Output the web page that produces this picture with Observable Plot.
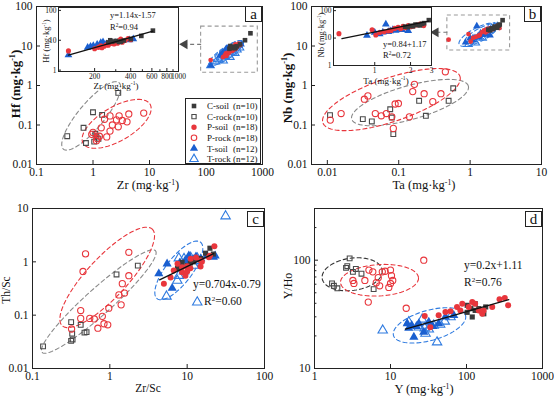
<!DOCTYPE html>
<html><head><meta charset="utf-8">
<script src="https://cdn.jsdelivr.net/npm/d3@7"></script>
<script src="https://cdn.jsdelivr.net/npm/@observablehq/plot@0.6"></script>
<style>
body{margin:0;background:#fff;}
#root{position:relative;width:554px;height:396px;overflow:hidden;background:#fff;font-family:'Liberation Serif','Times New Roman',serif;color:#111;}
.t{position:absolute;white-space:nowrap;line-height:1;}
.sup{font-size:.62em;vertical-align:.55em;}
.lab{position:absolute;border:1px solid #222;background:#fff;font-size:15px;line-height:14px;text-align:center;box-sizing:border-box;}
</style></head><body><div id="root"></div>
<script>
// ---------- data ----------
// Panel a: Zr vs Hf (mg/kg)
const aCrock = [[2.8,0.65],[1.0,0.21],[1.45,0.18],[0.68,0.085],[0.35,0.052],[0.75,0.035],[1.15,0.052],[1.25,0.045],[1.05,0.038],[1.1,0.06]];
const aProck = [[7.9,0.2],[4.3,0.19],[2.9,0.17],[2.0,0.17],[1.6,0.14],[2.6,0.135],[3.3,0.13],[4.0,0.12],[1.4,0.085],[2.8,0.09],[2.0,0.07],[0.95,0.058],[1.75,0.05],[1.0,0.065],[1.2,0.045],[1.3,0.052],[1.15,0.04],[2.2,0.1]];
const aCsoil = [[612,21],[490,14],[270,10],[300,9.5],[330,9],[260,8.5],[350,9.8],[280,9],[400,11],[320,8.8]];
const aPsoil = [[121,4.4],[200,5.2],[215,5.8],[225,6.5],[240,6.3],[250,7],[270,7.8],[290,7.5],[300,8.5],[310,8],[320,9.8],[330,11],[340,8.6],[360,10],[380,11.5],[400,10.5],[260,6.8],[230,5.6]];
const aTsoil = [[121,3.2],[175,5.7],[185,6.2],[195,6.6],[210,7.2],[225,8.3],[235,8.8],[250,7.5],[280,8],[300,8.3],[420,11],[390,10.2]];
const aTrock = [[120,3.2],[150,4.0],[170,4.5],[190,5.0],[205,4.2],[220,5.5],[250,6.0],[270,5.2],[300,7.0],[330,6.5],[360,8.0],[400,9.0]];
// Panel b: Ta vs Nb
const bCrock = [[0.0109,0.178],[0.0314,0.141],[0.042,0.123],[0.076,0.25],[0.080,0.155],[0.084,0.059],[0.193,0.41],[0.24,0.171],[0.50,0.41],[0.58,0.85]];
const bProck = [[0.011,0.133],[0.0156,0.195],[0.033,0.45],[0.037,0.545],[0.047,0.195],[0.057,0.171],[0.067,0.195],[0.080,0.161],[0.084,0.082],[0.089,0.34],[0.099,0.35],[0.141,0.161],[0.157,0.70],[0.166,1.07],[0.227,0.62],[0.30,0.39],[0.39,0.62],[0.45,2.22]];
const bCsoil = [[2.85,45],[2.5,33],[2.3,30],[2.0,28],[1.8,26],[2.2,31],[2.6,35],[1.9,25],[2.4,29],[2.1,27]];
const bPsoil = [[0.5,14.5],[0.95,20],[1.02,13],[1.1,16],[1.3,18],[1.37,19],[1.47,22.5],[1.57,24.7],[1.65,22],[1.73,27],[1.8,24],[1.91,28.5],[2.0,26],[2.1,27],[2.25,30],[2.4,32.5],[2.58,28.5],[1.2,17]];
const bTsoil = [[0.86,12.3],[1.0,16],[1.1,14],[1.17,16.3],[1.24,32],[1.3,17],[1.42,20.3],[1.5,19],[1.6,21],[1.7,20],[1.91,18.5],[1.35,18]];
const bTrock = [[0.95,11],[1.0,13],[1.1,15],[1.2,12],[1.3,17],[1.4,20],[1.5,16],[1.6,22],[1.8,25],[2.0,28],[2.2,30],[2.4,31]];
// Panel c: Zr/Sc vs Th/Sc
const cCrock = [[0.137,0.026],[0.316,0.074],[0.326,0.045],[0.316,0.033],[0.42,0.066],[0.47,0.047],[1.22,0.58],[2.3,0.85],[0.33,0.035],[0.5,0.048]];
const cProck = [[0.485,1.41],[0.45,0.66],[1.76,1.51],[1.76,0.55],[1.45,0.39],[1.55,0.26],[1.31,0.24],[1.40,0.156],[0.97,0.135],[0.42,0.122],[0.42,0.087],[0.55,0.087],[0.63,0.085],[0.80,0.095],[0.84,0.069],[0.94,0.066],[0.70,0.057],[0.32,0.055]];
const cCsoil = [[7.5,0.75],[8.6,0.98],[10,0.85],[11,0.95],[12,1.0],[13.5,1.14],[15,1.15],[17.3,1.45],[19.7,1.8],[21.8,1.4]];
const cPsoil = [[5.0,0.39],[6.1,0.51],[8.6,0.64],[9.5,0.55],[10,0.83],[7.5,0.92],[14.9,1.06],[15.5,1.0],[19.1,1.22],[22.5,1.95],[11.1,1.14],[8.6,0.79],[14.9,0.82],[19.7,1.3],[11,0.76],[10,0.66],[6.7,0.69],[13,1.2]];
const cTsoil = [[4.3,0.6],[5.5,0.92],[6.4,0.32],[8,0.95],[9.4,1.05],[10.5,1.3],[12,1.1],[13,1.25],[15,1.15],[18,1.3],[21.8,1.22],[23,1.3]];
const cTrock = [[31.4,7.2],[5.4,0.225],[7.45,0.445],[7.8,0.55],[7.8,1.17],[9.1,1.14],[9.1,0.67],[12.2,0.85],[13.5,1.17],[11.1,1.2],[13,1.05],[13.5,0.175]];
// Panel d: Y vs Y/Ho
const dCrock = [[2.9,104],[2.6,85],[2.7,88],[3.5,83],[4.15,75],[1.7,61],[2.0,55],[6.0,54],[1.8,58],[3.2,78]];
const dProck = [[5.2,81],[5.85,78],[3.2,65],[3.3,61],[4.6,65],[6.5,62],[6.9,69],[7.8,78],[10,81],[10.3,72],[10.7,65],[9.5,56],[10,61],[5.1,41],[27.4,100],[16.1,36],[8.5,79],[7.2,58]];
const dCsoil = [[102,38.3],[130,39.7],[119,29.9],[161,33.7],[169,32],[145,35.7],[114,35.7],[179,37],[130,34.4],[102,33]];
const dPsoil = [[28.2,30.5],[43,31],[61.6,33.7],[75,37],[88,39.7],[107,37],[119,41],[145,34.4],[161,32],[218,37],[272,43.5],[319,44.7],[353,38.3],[83,34.4],[52.8,33.3],[33.4,24],[130,39.7],[168,34.4]];
const dTsoil = [[16.6,26],[17.4,23.6],[20.3,19.5],[23.6,26],[27.4,21.7],[31.9,26.8],[36,24.5],[43,26],[52.8,30],[68,31],[22,24.5],[19,25]];
const dTrock = [[7.9,22.5],[17.4,26.8],[23.6,24],[28.2,23.6],[31.9,23],[37.1,25],[51.8,27.2],[61.6,29.9],[28.9,21],[26.1,28.4],[41,17.5],[45,25.5]];

// regression fits: [slope, intercept (log10), xmin, xmax]
const fitA = [1.14, -1.87, 121, 612];
const fitB = [0.88, 1.22, 0.53, 2.85];
const fitC = [0.704, -0.79, 4.4, 22];
const fitD = [0.2, 1.125, 15.7, 360];

// group ellipses: [centre x, centre y, major dlogx, major dlogy, minor dlogx, minor dlogy]
const ellA_C = [0.93, 0.17, 0.5, 0.83, 0.15, -0.25];
const ellA_P = [2.62, 0.107, 0.59, 0.5, 0.16, -0.365];
const ellA_T1 = [228, 6.6, 0.3, 0.29, 0.06, -0.12];
const ellA_T2 = [245, 7.4, 0.25, 0.25, 0.05, -0.1];
const ellB_P = [0.079, 0.44, 0.96, 0.59, 0.10, -0.52];
const ellB_C = [0.144, 0.37, 0.817, 0.42, 0.066, -0.41];
const ellB_T1 = [1.31, 19.4, 0.27, 0.25, 0.045, -0.16];
const ellB_T2 = [1.45, 21, 0.23, 0.22, 0.04, -0.12];
const ellC_P = [0.925, 0.51, 0.582, 0.906, 0.19, -0.257];
const ellC_C = [0.72, 0.18, 0.733, 0.953, 0.112, -0.182];
const ellC_T = [7.8, 0.69, 0.28, 0.53, 0.134, -0.148];
const ellD_C = [3.13, 74.1, 0.395, 0.037, 0.026, -0.148];
const ellD_P = [7.17, 65.3, 0.513, 0.0185, 0.0, -0.145];
const ellD_T = [32.6, 25, 0.474, 0.093, 0.053, -0.134];

// zoom boxes [x1, x2, y1, y2] and arrows [y, xTail, xHead]
const boxA = [82, 826, 2.1, 31];
const arrowA = [11, 82, 42];
const boxB = [0.48, 3.63, 7.7, 59];
const arrowB = [22.2, 0.48, 0.33];

// tick values
const xTicksA = [0.1, 1, 10, 100, 1000];
const yTicksAB = [0.01, 0.1, 1, 10, 100];
const xTicksB = [0.01, 0.1, 1, 10];
const xTicksC = [0.1, 1, 10, 100];
const yTicksC = [0.01, 0.1, 1, 10];
const xTicksD = [1, 10, 100, 1000];
const yTicksD = [10, 100];
const yMinorD = [20, 30, 40, 50, 60, 70, 80, 90, 200];
const xTicksIA = [200, 400, 600, 800, 1000];
const xMinorIA = [300, 500, 700, 900];
const yTicksI = [1, 10, 100];
const xTicksIB = [1, 2, 3];

const legendNames = ["C-soil", "C-rock", "P-soil", "P-rock", "T-soil", "T-rock"];
const legendN = [10, 10, 18, 18, 12, 12];

// ---------- drawing ----------
const root = document.getElementById("root");
const FONT = "'Liberation Serif','Times New Roman',serif";
const RED = "#e8363c", BLUE = "#1a5fd0", BLUE2 = "#2f7be0", DARK = "#3a3a3a", GREY = "#4a4a4a";
const ST = {
  Cs: {symbol: "square", fill: DARK, r: 2.9},
  Cr: {symbol: "square", stroke: GREY, r: 2.7},
  Ps: {symbol: "circle", fill: RED, r: 3.0},
  Pr: {symbol: "circle", stroke: RED, r: 3.1},
  Ts: {symbol: "triangle", fill: BLUE, r: 3.4},
  Tr: {symbol: "triangle", stroke: BLUE2, r: 3.5}
};
function dots(data, s, k = 1) {
  return Plot.dot(data, {x: d => d[0], y: d => d[1], symbol: s.symbol, fill: s.fill || "none", stroke: s.stroke || "none", r: s.r * k, strokeWidth: 1.1});
}
function ellPts(e, n = 96) {
  const cx = Math.log10(e[0]), cy = Math.log10(e[1]);
  return d3.range(n + 1).map(i => { const t = 2 * Math.PI * i / n;
    return [10 ** (cx + e[2] * Math.cos(t) + e[4] * Math.sin(t)), 10 ** (cy + e[3] * Math.cos(t) + e[5] * Math.sin(t))]; });
}
function ellMark(e, stroke) {
  return Plot.line(ellPts(e), {x: d => d[0], y: d => d[1], stroke, strokeWidth: 1.1, strokeDasharray: "4,3"});
}
function fitLine(f) {
  const pts = [f[2], f[3]].map(x => [x, 10 ** (f[0] * Math.log10(x) + f[1])]);
  return Plot.line(pts, {x: d => d[0], y: d => d[1], stroke: "#111", strokeWidth: 1.3});
}
function boxMarks(b, a) {
  return [
    Plot.rect([b], {x1: d => d[0], x2: d => d[1], y1: d => d[2], y2: d => d[3], fill: "none", stroke: "#9a9a9a", strokeWidth: 1.1, strokeDasharray: "4,3"}),
    Plot.link([a], {x1: d => d[1], x2: d => d[2], y1: d => d[0], y2: d => d[0], stroke: "#777", strokeWidth: 1.1, strokeDasharray: "4,3"}),
    Plot.dot([a], {x: d => d[2], y: d => d[0], symbol: "triangle", rotate: -90, r: 3.6, fill: "#444", stroke: "none"})
  ];
}
function panel(o) {
  const fw = o.w - o.ml - o.mr, fh = o.h - o.mt - o.mb;
  const tl = o.tl || 4;
  const marks = [];
  if (o.bg) marks.push(Plot.frame({fill: "white", stroke: "none"}));
  marks.push(...o.marks);
  marks.push(Plot.tickX(o.xt, {x: d => d, insetTop: fh - tl, stroke: "#222"}));
  marks.push(Plot.tickY(o.yt, {y: d => d, insetRight: fw - tl, stroke: "#222"}));
  if (o.xm) marks.push(Plot.tickX(o.xm, {x: d => d, insetTop: fh - tl * 0.6, stroke: "#222"}));
  if (o.ym) marks.push(Plot.tickY(o.ym, {y: d => d, insetRight: fw - tl * 0.6, stroke: "#222"}));
  marks.push(Plot.frame({stroke: "#222", strokeWidth: 1}));
  const svg = Plot.plot({
    width: o.w, height: o.h, marginLeft: o.ml, marginRight: o.mr, marginTop: o.mt, marginBottom: o.mb,
    x: {type: "log", domain: o.xd, ticks: o.xt, tickFormat: d => String(d), tickSize: 0, tickPadding: o.tpx || 3, label: null},
    y: {type: "log", domain: o.yd, ticks: o.yt, tickFormat: d => String(d), tickSize: 0, tickPadding: o.tpy || 4, label: null},
    style: {fontFamily: FONT, fontSize: o.fs + "px", color: "#111", background: "transparent", overflow: "visible"},
    marks
  });
  svg.style.position = "absolute";
  svg.style.left = o.left + "px";
  svg.style.top = o.top + "px";
  root.appendChild(svg);
}
function txt(html, x, y, opt = {}) {
  const d = document.createElement("div");
  d.className = "t";
  d.innerHTML = html;
  d.style.left = x + "px"; d.style.top = y + "px";
  d.style.fontSize = (opt.size || 12) + "px";
  d.style.fontWeight = opt.weight || "normal";
  const tx = opt.anchor === "middle" ? "-50%" : opt.anchor === "end" ? "-100%" : "0";
  d.style.transform = `translate(${tx},-50%)` + (opt.rotate ? ` rotate(${opt.rotate}deg)` : "");
  root.appendChild(d);
}
function letter(ch, x, y) {
  const d = document.createElement("div");
  d.className = "lab"; d.textContent = ch;
  d.style.left = x + "px"; d.style.top = y + "px"; d.style.width = "17px"; d.style.height = "16px";
  root.appendChild(d);
}
const unit = 'mg·kg<span class="sup">-1</span>';

// Panel a
panel({left: 0, top: 0, w: 275, h: 196, ml: 36, mr: 13, mt: 6, mb: 32, fs: 11.5,
  xd: [0.1, 1000], yd: [0.01, 100], xt: xTicksA, yt: yTicksAB,
  marks: [ellMark(ellA_C, "#8a8a8a"), ellMark(ellA_P, RED), ellMark(ellA_T1, BLUE2), ellMark(ellA_T2, BLUE2),
    dots(aCrock, ST.Cr), dots(aProck, ST.Pr), ...boxMarks(boxA, arrowA),
    dots(aTrock, ST.Tr, 0.8), dots(aTsoil, ST.Ts, 0.8), dots(aPsoil, ST.Ps, 0.8), dots(aCsoil, ST.Cs, 0.9)]});
// Panel b
panel({left: 275, top: 0, w: 279, h: 196, ml: 36, mr: 13, mt: 6, mb: 32, fs: 11.5,
  xd: [0.006, 10], yd: [0.01, 100], xt: xTicksB, yt: yTicksAB,
  marks: [ellMark(ellB_C, "#8a8a8a"), ellMark(ellB_P, RED), ellMark(ellB_T1, BLUE2), ellMark(ellB_T2, BLUE2),
    dots(bCrock, ST.Cr), dots(bProck, ST.Pr), ...boxMarks(boxB, arrowB),
    dots(bTrock, ST.Tr, 0.8), dots(bTsoil, ST.Ts, 0.8), dots(bPsoil, ST.Ps, 0.8), dots(bCsoil, ST.Cs, 0.9)]});
// Panel c
panel({left: 0, top: 200, w: 275, h: 196, ml: 32, mr: 11, mt: 8, mb: 28, fs: 11.5,
  xd: [0.1, 100], yd: [0.01, 10], xt: xTicksC, yt: yTicksC,
  marks: [ellMark(ellC_C, "#8a8a8a"), ellMark(ellC_P, RED), ellMark(ellC_T, BLUE2),
    dots(cCrock, ST.Cr), dots(cProck, ST.Pr), dots(cTrock, ST.Tr), dots(cTsoil, ST.Ts), dots(cCsoil, ST.Cs), dots(cPsoil, ST.Ps), fitLine(fitC)]});
// Panel d
panel({left: 275, top: 200, w: 279, h: 196, ml: 39, mr: 12, mt: 8, mb: 28, fs: 11.5,
  xd: [1, 1000], yd: [10, 300], xt: xTicksD, yt: yTicksD, ym: yMinorD,
  marks: [ellMark(ellD_C, "#333"), ellMark(ellD_P, RED), ellMark(ellD_T, BLUE2),
    dots(dCrock, ST.Cr), dots(dProck, ST.Pr), dots(dTrock, ST.Tr), dots(dTsoil, ST.Ts), dots(dCsoil, ST.Cs), dots(dPsoil, ST.Ps), fitLine(fitD)]});
// Inset a
panel({left: 30, top: 0, w: 160, h: 95, ml: 28, mr: 12, mt: 7, mb: 24, fs: 7.5, bg: true, tl: 3, tpx: 2, tpy: 2,
  xd: [100, 1000], yd: [0.9, 125], xt: xTicksIA, yt: yTicksI, xm: xMinorIA,
  marks: [dots(aTsoil, ST.Ts, 0.85), dots(aPsoil, ST.Ps, 0.85), dots(aCsoil, ST.Cs, 0.9), fitLine(fitA)]});
// Inset b
panel({left: 300, top: 0, w: 145, h: 92, ml: 33, mr: 14, mt: 7, mb: 27, fs: 7.5, bg: true, tl: 3, tpx: 2, tpy: 2,
  xd: [0.45, 3], yd: [1, 130], xt: xTicksIB, yt: yTicksI,
  marks: [dots(bTsoil, ST.Ts, 0.85), dots(bPsoil, ST.Ps, 0.85), dots(bCsoil, ST.Cs, 0.9), fitLine(fitB)]});

// axis titles
txt(`Hf (${unit})`, 15, 84, {size: 13, anchor: "middle", rotate: -90, weight: "bold"});
txt(`Zr (${unit})`, 148, 185, {size: 12.5, anchor: "middle"});
txt(`Nb (${unit})`, 287, 88, {size: 13, anchor: "middle", rotate: -90, weight: "bold"});
txt(`Ta (${unit})`, 424, 185, {size: 12.5, anchor: "middle"});
txt(`Th/Sc`, 7, 290, {size: 11.5, anchor: "middle", rotate: -90});
txt(`Zr/Sc`, 148, 389, {size: 11.5, anchor: "middle"});
txt(`Y/Ho`, 288, 286, {size: 12, anchor: "middle", rotate: -90});
txt(`Y (${unit})`, 424, 389, {size: 12.5, anchor: "middle"});
// inset titles
txt(`Hf (${unit})`, 46, 41, {size: 8.5, anchor: "middle", rotate: -90});
txt(`Zr (${unit})`, 116, 86, {size: 9, anchor: "middle"});
txt(`Nb (${unit})`, 321, 35, {size: 8.5, anchor: "middle", rotate: -90});
txt(`Ta (${unit})`, 386, 81, {size: 9, anchor: "middle"});
// equations
txt(`y=1.14x-1.57`, 110, 15, {size: 8.5});
txt(`R<span class="sup">2</span>=0.94`, 110, 27, {size: 8.5});
txt(`y=0.84+1.17`, 383, 44, {size: 8.5});
txt(`R<span class="sup">2</span>=0.72`, 383, 55, {size: 8.5});
txt(`y=0.704x-0.79`, 193, 285, {size: 11.5});
txt(`R<span class="sup">2</span>=0.60`, 204, 302, {size: 11.5});
txt(`y=0.2x+1.11`, 464, 266, {size: 11.5});
txt(`R<span class="sup">2</span>=0.76`, 464, 283, {size: 11.5});
// panel letters
letter("a", 245, 6);
letter("b", 524, 6);
letter("c", 247, 211);
letter("d", 525, 211);

// legend (panel a)
const keys = ["Cs", "Cr", "Ps", "Pr", "Ts", "Tr"];
const lg = d3.create("svg").attr("width", 76).attr("height", 66)
  .style("position", "absolute").style("left", "185px").style("top", "98px")
  .style("font-family", FONT).style("font-size", "9px");
lg.append("rect").attr("x", 0.5).attr("y", 0.5).attr("width", 75).attr("height", 65).attr("fill", "white").attr("stroke", "#222");
const symMap = {square: d3.symbolSquare, circle: d3.symbolCircle, triangle: d3.symbolTriangle};
legendNames.forEach((nm, i) => {
  const s = ST[keys[i]], y = 8 + i * 10.6;
  lg.append("path").attr("transform", `translate(9,${y})`)
    .attr("d", d3.symbol(symMap[s.symbol], Math.PI * s.r * s.r * 0.8)())
    .attr("fill", s.fill || "none").attr("stroke", s.stroke || "none").attr("stroke-width", 1.1);
  lg.append("text").attr("x", 22).attr("y", y).attr("dy", "0.35em").attr("fill", "#111").text(nm);
  lg.append("text").attr("x", 48).attr("y", y).attr("dy", "0.35em").attr("fill", "#111").text(`(n=${legendN[i]})`);
});
root.appendChild(lg.node());
</script>
</body></html>
